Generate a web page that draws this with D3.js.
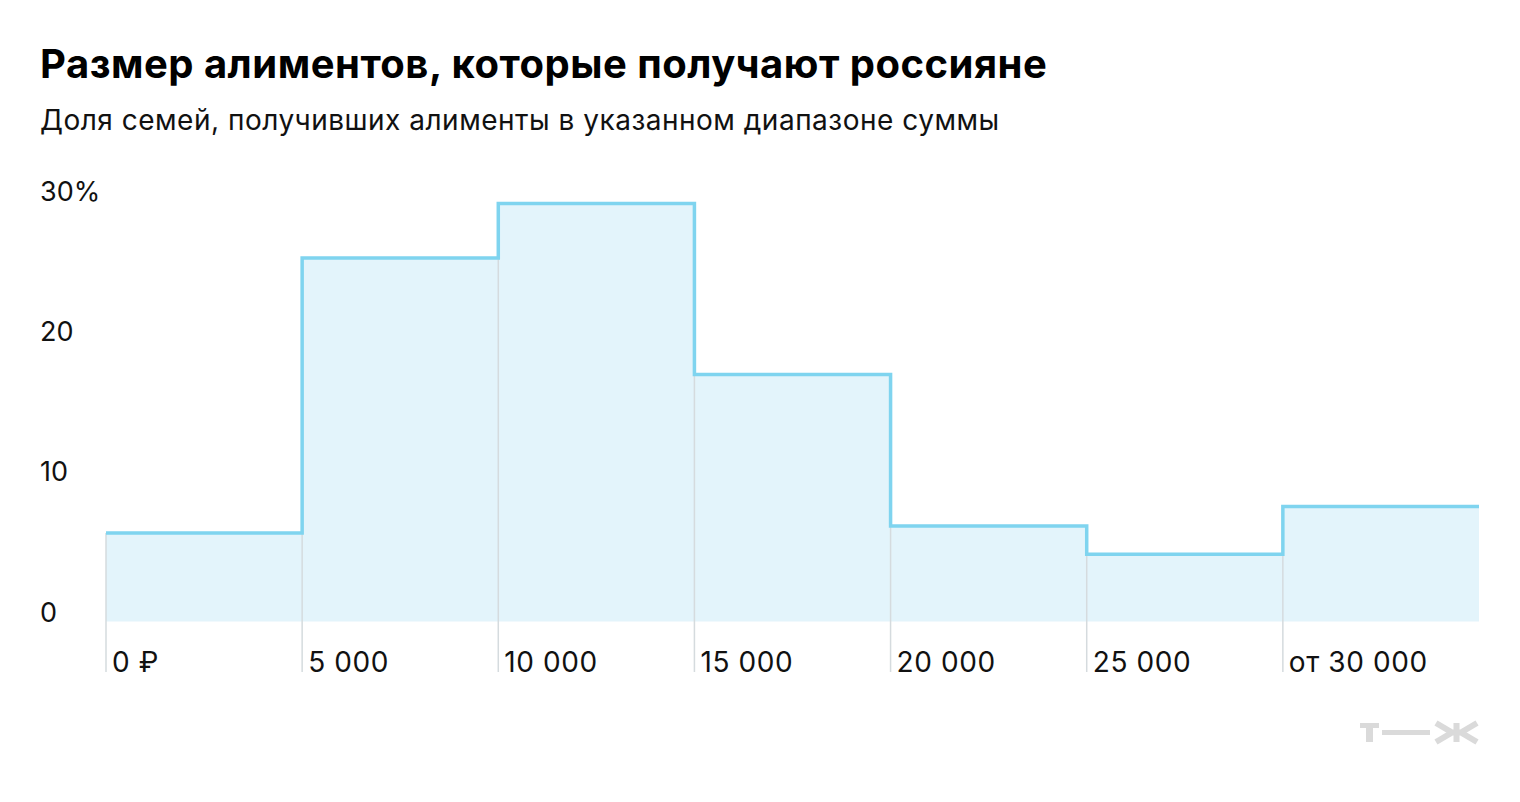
<!DOCTYPE html>
<html>
<head>
<meta charset="utf-8">
<script src="https://cdn.jsdelivr.net/npm/d3@7"></script>
<style>
  body { margin: 0; background: #fff; }
  svg { font-family: Inter, "Noto Sans", sans-serif; }
</style>
</head>
<body>
<script>
// data
const binLabels = ['0 ₽', '5 000', '10 000', '15 000', '20 000', '25 000', 'от 30 000'];
const shares = [6.3, 25.9, 29.8, 17.6, 6.8, 4.8, 8.2];
const yTicks = [0, 10, 20, 30];

const width = 1520, height = 802;
const svg = d3.select('body').append('svg').attr('width', width).attr('height', height);

// title
svg.append('text').attr('x', 40).attr('y', 78)
    .attr('font-size', 40).attr('font-weight', 700).attr('fill', '#000')
    .attr('letter-spacing', 0.5)
    .text('Размер алиментов, которые получают россияне');
svg.append('text').attr('x', 40).attr('y', 130)
    .attr('font-size', 28).attr('fill', '#111')
    .attr('letter-spacing', 0.5)
    .text('Доля семей, получивших алименты в указанном диапазоне суммы');

const x = d3.scaleLinear().domain([0, shares.length]).range([106, 1479]);
const y = d3.scaleLinear().domain([0, 30]).range([621.5, 200.6]);

//step points, last value repeated to close the last bin
const pts = shares.map((v, i) => ({i: i, v: v}));
pts.push({i: shares.length, v: shares[shares.length - 1]});

// fill
svg.append('path').datum(pts)
    .attr('fill', '#e3f4fb')
    .attr('d', d3.area().curve(d3.curveStepAfter).x(d => x(d.i)).y0(y(0)).y1(d => y(d.v)));

// vertical separators
const bounds = d3.range(shares.length);
svg.selectAll('line.sep').data(bounds).enter().append('line')
    .attr('class', 'sep')
    .attr('x1', d => x(d)).attr('x2', d => x(d))
    .attr('y1', d => y(Math.max(shares[d], d > 0 ? shares[d - 1] : 0)))
    .attr('y2', 672)
    .attr('stroke', '#d5dbde').attr('stroke-width', 1.5);

// step line
svg.append('path').datum(pts)
    .attr('fill', 'none').attr('stroke', '#7fd4ef').attr('stroke-width', 3.5)
    .attr('d', d3.line().curve(d3.curveStepAfter).x(d => x(d.i)).y(d => y(d.v)));

// y labels
svg.selectAll('text.ytick').data(yTicks).enter().append('text')
    .attr('class', 'ytick')
    .attr('x', 40).attr('y', d => y(d))
    .attr('font-size', 27).attr('fill', '#111')
    .text(d => d === 30 ? d + '%' : d);

// x labels
svg.selectAll('text.xtick').data(binLabels).enter().append('text')
    .attr('class', 'xtick')
    .attr('x', (d, i) => x(i) + 6).attr('y', 672)
    .attr('font-size', 28).attr('fill', '#111')
    .attr('letter-spacing', 0.6)
    .text(d => d);

// logo т—ж
const logo = svg.append('g').attr('fill', '#dadada').attr('stroke', '#dadada');
logo.append('rect').attr('x', 1360).attr('y', 723).attr('width', 19).attr('height', 5).attr('stroke', 'none');
logo.append('rect').attr('x', 1366).attr('y', 723).attr('width', 7).attr('height', 19).attr('stroke', 'none');
logo.append('rect').attr('x', 1382).attr('y', 730).attr('width', 48).attr('height', 5).attr('stroke', 'none');
logo.append('path').attr('fill', 'none').attr('stroke-width', 6)
    .attr('d', 'M1436 723 L1452 732.5 L1436 742 M1477 723 L1461 732.5 L1477 742 M1456.5 723 V742 M1448 732.5 H1465');
</script>
</body>
</html>
